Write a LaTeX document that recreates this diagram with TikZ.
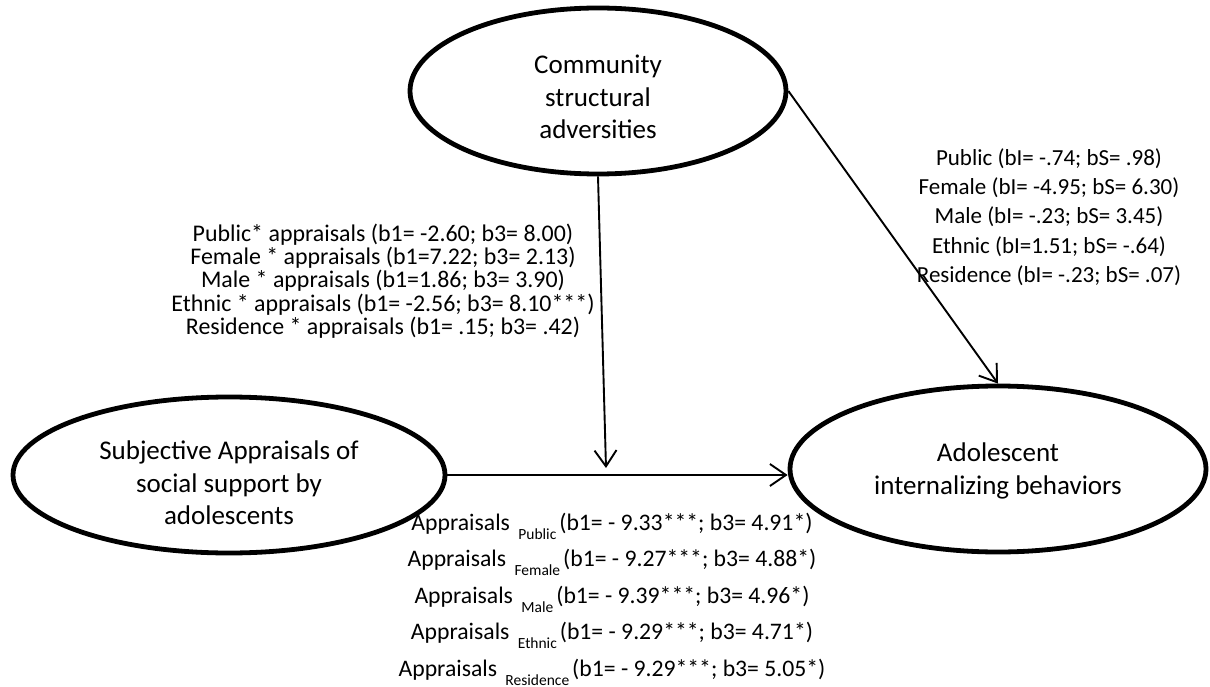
\documentclass[tikz,border=0pt]{standalone}
\usepackage{fontspec}
\setmainfont{Carlito}
\usetikzlibrary{arrows.meta,shapes.geometric}
% lowered small group name after "Appraisals"
\newcommand\subtag[1]{\hspace{3pt}\raisebox{-9pt}{\fontsize{15.5}{16}\selectfont #1}\hspace{3pt}}
\begin{document}
\begin{tikzpicture}[x=1pt,y=-1pt,
  latent/.style={draw, ellipse, line width=4.8pt, inner sep=0pt},
  bigtext/.style={font=\fontsize{27}{32.5}\selectfont, align=center, inner sep=0pt},
  coefmid/.style={font=\fontsize{23.9}{23.3}\selectfont, align=center, inner sep=0pt},
  coefright/.style={font=\fontsize{23}{29.3}\selectfont, align=center, inner sep=0pt},
  coefbottom/.style={font=\fontsize{23.7}{36.5}\selectfont, align=center, inner sep=0pt},
  effect/.style={line width=1.9pt, -{Straight Barb[length=16pt,width=22pt]}}]

\fill[white] (0,0) rectangle (1210,687);
\useasboundingbox (0,0) rectangle (1210,687);

% latent constructs
\node[latent, minimum width=376pt, minimum height=166pt,
  label={[name=Ctext, bigtext, yshift=-6pt]center:{Community\\structural\\adversities}}]
  (C) at (598,91) {};
\node[latent, minimum width=432pt, minimum height=156pt,
  label={[name=Stext, bigtext, yshift=-8pt]center:{Subjective Appraisals of\\social support by\\adolescents}}]
  (S) at (229,475) {};
\node[latent, minimum width=416pt, minimum height=166pt,
  label={[name=Atext, bigtext, yshift=-2pt]center:{Adolescent\\internalizing behaviors}}]
  (A) at (998,469) {};

% moderation point on the main path
\coordinate (mod) at (606,468);

% paths
\draw[effect] (C.south) -- (mod);
\draw[effect] (S.east) -- (S.east -| A.west);
\draw[effect] (C.east) -- (A.north);

% coefficients
\node[coefmid] (modcoef) at (383,281) {%
  Public* appraisals (b1= -2.60; b3= 8.00)\\
  Female * appraisals (b1=7.22; b3= 2.13)\\
  Male * appraisals (b1=1.86; b3= 3.90)\\
  Ethnic * appraisals (b1= -2.56; b3= 8.10***)\\
  Residence * appraisals (b1= .15; b3= .42)};

\node[coefright] (dircoef) at (1049,217) {%
  Public (bI= -.74; bS= .98)\\
  Female (bI= -4.95; bS= 6.30)\\
  Male (bI= -.23; bS= 3.45)\\
  Ethnic (bI=1.51; bS= -.64)\\
  Residence (bI= -.23; bS= .07)};

\node[coefbottom] (appcoef) at (612,599) {%
  Appraisals \subtag{Public}(b1= - 9.33***; b3= 4.91*)\\
  Appraisals \subtag{Female}(b1= - 9.27***; b3= 4.88*)\\
  Appraisals \subtag{Male}(b1= - 9.39***; b3= 4.96*)\\
  Appraisals \subtag{Ethnic}(b1= - 9.29***; b3= 4.71*)\\
  Appraisals \subtag{Residence}(b1= - 9.29***; b3= 5.05*)};

\end{tikzpicture}
\end{document}
